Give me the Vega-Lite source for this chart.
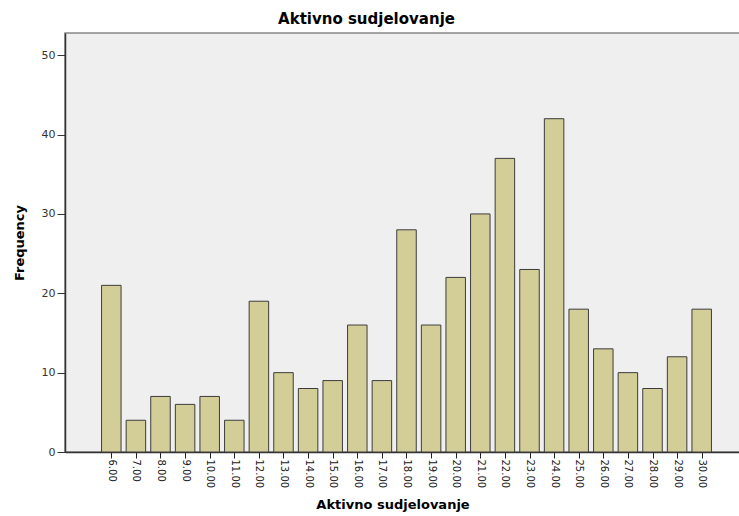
{
  "$schema": "https://vega.github.io/schema/vega-lite/v6.json",
  "autosize": "none",
  "width": 683,
  "height": 419,
  "padding": {"left": 65, "top": 33, "right": 0, "bottom": 64},
  "background": "white",
  "title": {
    "text": "Aktivno sudjelovanje",
    "font": "DejaVu Sans",
    "fontSize": 15,
    "fontWeight": "bold",
    "color": "#000000",
    "anchor": "middle",
    "dx": -40,
    "offset": 6
  },
  "config": {
    "view": {"fill": "#efefef", "stroke": "#888888", "strokeWidth": 1.5},
    "axis": {"grid": false}
  },
  "data": {
    "values": [
      {"v": 6, "n": 21},
      {"v": 7, "n": 4},
      {"v": 8, "n": 7},
      {"v": 9, "n": 6},
      {"v": 10, "n": 7},
      {"v": 11, "n": 4},
      {"v": 12, "n": 19},
      {"v": 13, "n": 10},
      {"v": 14, "n": 8},
      {"v": 15, "n": 9},
      {"v": 16, "n": 16},
      {"v": 17, "n": 9},
      {"v": 18, "n": 28},
      {"v": 19, "n": 16},
      {"v": 20, "n": 22},
      {"v": 21, "n": 30},
      {"v": 22, "n": 37},
      {"v": 23, "n": 23},
      {"v": 24, "n": 42},
      {"v": 25, "n": 18},
      {"v": 26, "n": 13},
      {"v": 27, "n": 10},
      {"v": 28, "n": 8},
      {"v": 29, "n": 12},
      {"v": 30, "n": 18}
    ]
  },
  "mark": {"type": "bar", "width": 19.5, "fill": "#d3ce97", "stroke": "#3c3c3c", "strokeWidth": 1, "fillOpacity": 1},
  "encoding": {
    "x": {
      "field": "v",
      "type": "quantitative",
      "scale": {"domain": [4.118, 31.882], "nice": false, "zero": false, "padding": 0},
      "axis": {
        "title": "Aktivno sudjelovanje",
        "titleFont": "DejaVu Sans",
        "titleFontSize": 13,
        "titleFontWeight": "bold",
        "titleColor": "#000000",
        "titlePadding": 11,
        "titleX": 327.5,
        "values": [6, 7, 8, 9, 10, 11, 12, 13, 14, 15, 16, 17, 18, 19, 20, 21, 22, 23, 24, 25, 26, 27, 28, 29, 30],
        "format": ".2f",
        "labelAngle": 90,
        "labelAlign": "left",
        "labelBaseline": "middle",
        "labelFont": "DejaVu Sans",
        "labelFontSize": 10,
        "labelColor": "#222222",
        "labelPadding": 1,
        "labelOverlap": false,
        "labelFlush": false,
        "tickSize": 6,
        "tickColor": "#222222",
        "domainColor": "#333333",
        "domainWidth": 1.5
      }
    },
    "y": {
      "field": "n",
      "type": "quantitative",
      "scale": {"domain": [0, 52.8], "nice": false, "zero": true},
      "axis": {
        "title": "Frequency",
        "titleFont": "DejaVu Sans",
        "titleFontSize": 13,
        "titleFontWeight": "bold",
        "titleColor": "#000000",
        "titlePadding": 15,
        "values": [0, 10, 20, 30, 40, 50],
        "labelFont": "DejaVu Sans",
        "labelFontSize": 11,
        "labelColor": "#333333",
        "labelPadding": 2,
        "tickSize": 8,
        "tickColor": "#333333",
        "domainColor": "#333333",
        "domainWidth": 1.5
      }
    }
  }
}
